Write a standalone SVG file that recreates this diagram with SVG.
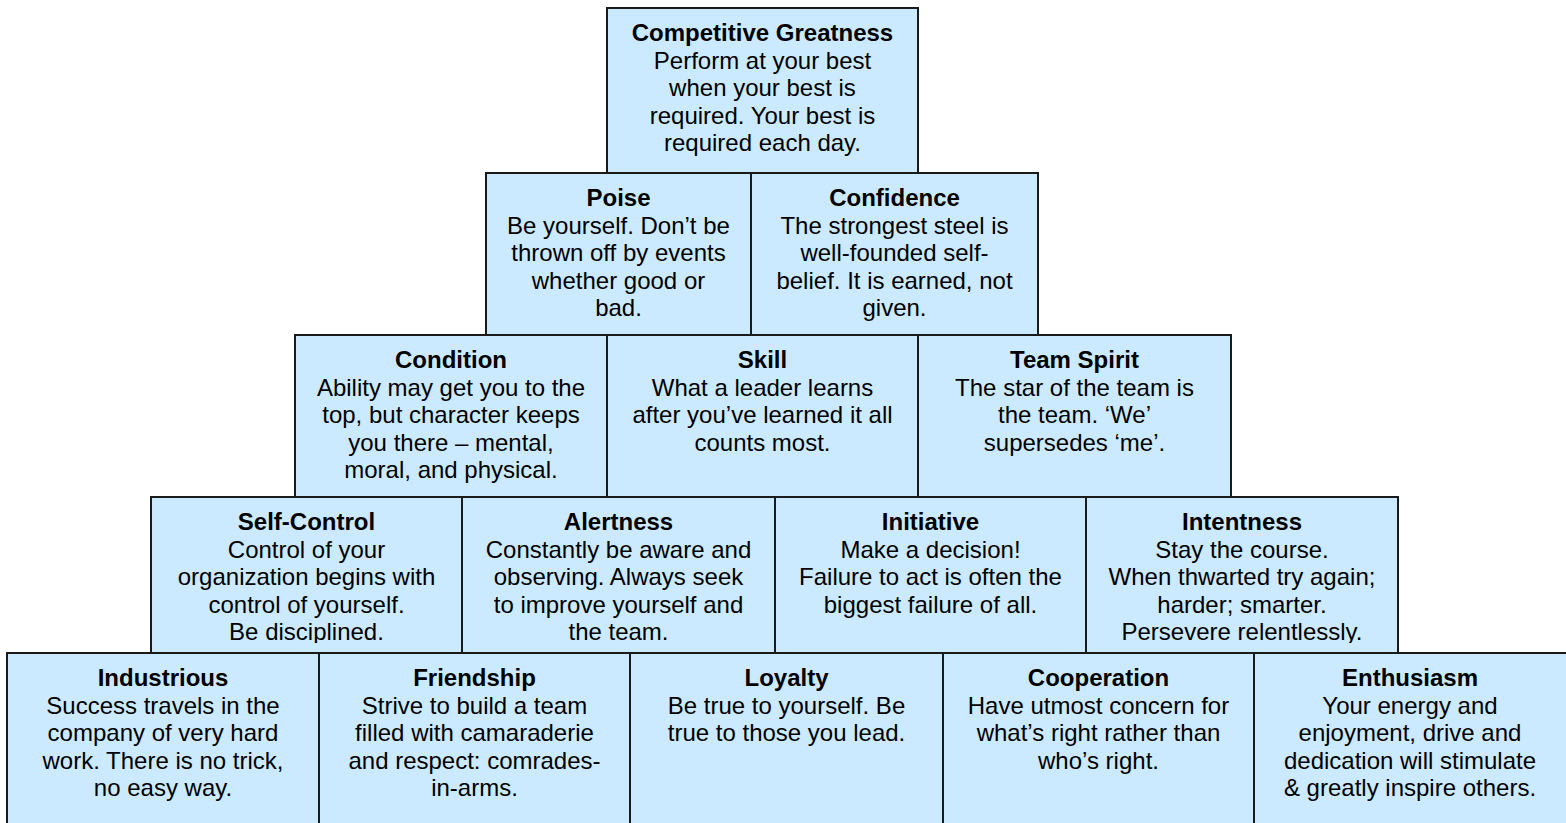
<svg xmlns="http://www.w3.org/2000/svg" width="1566" height="823" viewBox="0 0 1566 823">
<style>
.box{fill:#CCEAFF;stroke:#1a1a1a;stroke-width:2}
text{font-family:"Liberation Sans",Arial,sans-serif;font-size:24px;fill:#000;text-anchor:middle}
.t{font-weight:bold}
</style>
<defs>
<clipPath id="r4"><rect x="0" y="497" width="1566" height="146"/></clipPath>
</defs>
<rect width="1566" height="823" fill="#fff"/>
<g id="competitive-greatness">
<rect class="box" x="607" y="8" width="311" height="165"/>
<text x="762.5" y="41" class="t">Competitive Greatness</text>
<text x="762.5" y="68.6">Perform at your best</text>
<text x="762.5" y="96.2">when your best is</text>
<text x="762.5" y="123.8">required. Your best is</text>
<text x="762.5" y="151.4">required each day.</text>
</g>
<g id="poise">
<rect class="box" x="486" y="173" width="265" height="162"/>
<text x="618.5" y="206" class="t">Poise</text>
<text x="618.5" y="233.6">Be yourself. Don’t be</text>
<text x="618.5" y="261.2">thrown off by events</text>
<text x="618.5" y="288.8">whether good or</text>
<text x="618.5" y="316.4">bad.</text>
</g>
<g id="confidence">
<rect class="box" x="751" y="173" width="287" height="162"/>
<text x="894.5" y="206" class="t">Confidence</text>
<text x="894.5" y="233.6">The strongest steel is</text>
<text x="894.5" y="261.2">well-founded self-</text>
<text x="894.5" y="288.8">belief. It is earned, not</text>
<text x="894.5" y="316.4">given.</text>
</g>
<g id="condition">
<rect class="box" x="295" y="335" width="312" height="162"/>
<text x="451" y="368" class="t">Condition</text>
<text x="451" y="395.6">Ability may get you to the</text>
<text x="451" y="423.2">top, but character keeps</text>
<text x="451" y="450.8">you there – mental,</text>
<text x="451" y="478.4">moral, and physical.</text>
</g>
<g id="skill">
<rect class="box" x="607" y="335" width="311" height="162"/>
<text x="762.5" y="368" class="t">Skill</text>
<text x="762.5" y="395.6">What a leader learns</text>
<text x="762.5" y="423.2">after you’ve learned it all</text>
<text x="762.5" y="450.8">counts most.</text>
</g>
<g id="team-spirit">
<rect class="box" x="918" y="335" width="313" height="162"/>
<text x="1074.5" y="368" class="t">Team Spirit</text>
<text x="1074.5" y="395.6">The star of the team is</text>
<text x="1074.5" y="423.2">the team. ‘We’</text>
<text x="1074.5" y="450.8">supersedes ‘me’.</text>
</g>
<g id="self-control">
<rect class="box" x="151" y="497" width="311" height="156"/>
<g clip-path="url(#r4)">
<text x="306.5" y="530" class="t">Self-Control</text>
<text x="306.5" y="557.6">Control of your</text>
<text x="306.5" y="585.2">organization begins with</text>
<text x="306.5" y="612.8">control of yourself.</text>
<text x="306.5" y="640.4">Be disciplined.</text>
</g>
</g>
<g id="alertness">
<rect class="box" x="462" y="497" width="313" height="156"/>
<g clip-path="url(#r4)">
<text x="618.5" y="530" class="t">Alertness</text>
<text x="618.5" y="557.6">Constantly be aware and</text>
<text x="618.5" y="585.2">observing. Always seek</text>
<text x="618.5" y="612.8">to improve yourself and</text>
<text x="618.5" y="640.4">the team.</text>
</g>
</g>
<g id="initiative">
<rect class="box" x="775" y="497" width="311" height="156"/>
<text x="930.5" y="530" class="t">Initiative</text>
<text x="930.5" y="557.6">Make a decision!</text>
<text x="930.5" y="585.2">Failure to act is often the</text>
<text x="930.5" y="612.8">biggest failure of all.</text>
</g>
<g id="intentness">
<rect class="box" x="1086" y="497" width="312" height="156"/>
<g clip-path="url(#r4)">
<text x="1242" y="530" class="t">Intentness</text>
<text x="1242" y="557.6">Stay the course.</text>
<text x="1242" y="585.2">When thwarted try again;</text>
<text x="1242" y="612.8">harder; smarter.</text>
<text x="1242" y="640.4">Persevere relentlessly.</text>
</g>
</g>
<g id="industrious">
<rect class="box" x="7" y="653" width="312" height="180"/>
<text x="163" y="686" class="t">Industrious</text>
<text x="163" y="713.6">Success travels in the</text>
<text x="163" y="741.2">company of very hard</text>
<text x="163" y="768.8">work. There is no trick,</text>
<text x="163" y="796.4">no easy way.</text>
</g>
<g id="friendship">
<rect class="box" x="319" y="653" width="311" height="180"/>
<text x="474.5" y="686" class="t">Friendship</text>
<text x="474.5" y="713.6">Strive to build a team</text>
<text x="474.5" y="741.2">filled with camaraderie</text>
<text x="474.5" y="768.8">and respect: comrades-</text>
<text x="474.5" y="796.4">in-arms.</text>
</g>
<g id="loyalty">
<rect class="box" x="630" y="653" width="313" height="180"/>
<text x="786.5" y="686" class="t">Loyalty</text>
<text x="786.5" y="713.6">Be true to yourself. Be</text>
<text x="786.5" y="741.2">true to those you lead.</text>
</g>
<g id="cooperation">
<rect class="box" x="943" y="653" width="311" height="180"/>
<text x="1098.5" y="686" class="t">Cooperation</text>
<text x="1098.5" y="713.6">Have utmost concern for</text>
<text x="1098.5" y="741.2">what’s right rather than</text>
<text x="1098.5" y="768.8">who’s right.</text>
</g>
<g id="enthusiasm">
<rect class="box" x="1254" y="653" width="320" height="180"/>
<text x="1410" y="686" class="t">Enthusiasm</text>
<text x="1410" y="713.6">Your energy and</text>
<text x="1410" y="741.2">enjoyment, drive and</text>
<text x="1410" y="768.8">dedication will stimulate</text>
<text x="1410" y="796.4">&amp; greatly inspire others.</text>
</g>
</svg>
